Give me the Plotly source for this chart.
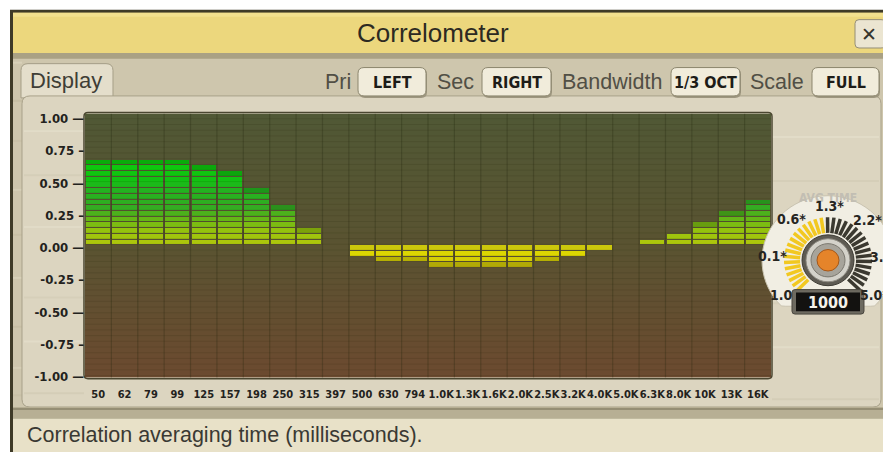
import math
import plotly.graph_objects as go

W, H = 883, 459

# ---------------- data ----------------
freqs = ["50", "62", "79", "99", "125", "157", "198", "250", "315", "397", "500", "630", "794",
         "1.0K", "1.3K", "1.6K", "2.0K", "2.5K", "3.2K", "4.0K", "5.0K", "6.3K", "8.0K", "10K", "13K", "16K"]
corr = [0.69, 0.69, 0.69, 0.69, 0.65, 0.61, 0.47, 0.33, 0.16, 0.0, -0.06, -0.11, -0.11,
        -0.15, -0.15, -0.15, -0.15, -0.11, -0.06, -0.02, 0.0, 0.07, 0.11, 0.20, 0.29, 0.38]
y_ticks = [1.0, 0.75, 0.5, 0.25, 0.0, -0.25, -0.5, -0.75, -1.0]
y_tick_text = ["1.00 —", "0.75 –", "0.50 —", "0.25 –", "0.00 —", "-0.25 –", "-0.50 —", "-0.75 –", "-1.00 —"]
knob_labels = ["1.0", "0.1*", "0.6*", "1.3*", "2.2*", "3.5", "5.0*"]
knob_value = "1000"
controls = [("Pri", "LEFT"), ("Sec", "RIGHT"), ("Bandwidth", "1/3 OCT"), ("Scale", "FULL")]

NARROW = "DejaVu Sans Condensed, Liberation Sans Narrow, Roboto, sans-serif"
SANS = "Liberation Sans, Arial, Helvetica, sans-serif"

SEG = 0.0442   # height of one meter segment
GAP = 0.007    # dark gap between segments
Z0 = 0.025     # meter quantisation origin


def X(p):
    return p / W


def Y(p):
    return 1 - p / H


def rect(x0, y0, x1, y1, fill, line=None, lw=0, layer="below"):
    return dict(type="rect", xref="paper", yref="paper", x0=X(x0), x1=X(x1), y0=Y(y1), y1=Y(y0),
                fillcolor=fill, line=dict(color=line or fill, width=lw), layer=layer)


def rrect(x0, y0, x1, y1, r, fill, line=None, lw=0, layer="below", top_only=False):
    def P(x, y):
        return f"{X(x):.5f},{Y(y):.5f}"
    if top_only:
        d = (f"M{P(x0, y1)} L{P(x0, y0 + r)} Q{P(x0, y0)} {P(x0 + r, y0)} L{P(x1 - r, y0)} "
             f"Q{P(x1, y0)} {P(x1, y0 + r)} L{P(x1, y1)} Z")
    else:
        d = (f"M{P(x0 + r, y0)} L{P(x1 - r, y0)} Q{P(x1, y0)} {P(x1, y0 + r)} L{P(x1, y1 - r)} "
             f"Q{P(x1, y1)} {P(x1 - r, y1)} L{P(x0 + r, y1)} Q{P(x0, y1)} {P(x0, y1 - r)} "
             f"L{P(x0, y0 + r)} Q{P(x0, y0)} {P(x0 + r, y0)} Z")
    return dict(type="path", xref="paper", yref="paper", path=d, fillcolor=fill,
                line=dict(color=line or fill, width=lw), layer=layer)


def circ(cx, cy, r, fill, line=None, lw=0, layer="above"):
    return dict(type="circle", xref="paper", yref="paper", x0=X(cx - r), x1=X(cx + r),
                y0=Y(cy + r), y1=Y(cy - r), fillcolor=fill, line=dict(color=line or fill, width=lw), layer=layer)


def lerp(c1, c2, t):
    return tuple(c1[i] + (c2[i] - c1[i]) * t for i in range(3))


def ramp(stops, k, dim=1.0):
    c = stops[-1][1]
    for (k0, c0), (k1, c1) in zip(stops, stops[1:]):
        if k <= k1:
            c = lerp(c0, c1, (k - k0) / (k1 - k0))
            break
    return "rgb(%d,%d,%d)" % tuple(v * dim for v in c)


POS_STOPS = [(0, (172, 198, 12)), (2, (148, 194, 14)), (4, (100, 182, 22)), (6, (52, 172, 34)),
             (9, (36, 178, 32)), (11, (18, 194, 18)), (14, (12, 204, 12))]
NEG_STOPS = [(0, (204, 200, 12)), (1, (220, 214, 2)), (3, (206, 198, 8))]

fig = go.Figure()

n = len(freqs)
x_lo, x_hi = -0.5, n - 0.5
y_lo, y_hi = -1.008, 1.038

# plot background gradient (heatmap layer sits below bars)
fig.add_trace(go.Heatmap(
    x=[x_lo, x_hi], y=[y_lo, 0, y_hi], z=[[0, 0], [0.5, 0.5], [1, 1]], zsmooth="best",
    colorscale=[[0, "rgb(108,74,48)"], [0.5, "rgb(90,83,49)"], [1, "rgb(80,88,53)"]],
    showscale=False, hoverinfo="skip"))

# segmented bars
bx, bb, bh, bc = [], [], [], []
for i, v in enumerate(corr):
    if v > 0:
        cnt = int(round((v - Z0) / SEG))
    else:
        cnt = int(round((Z0 - v) / SEG)) if v < 0 else 0
    for kk in range(cnt):
        top = kk == cnt - 1 and cnt > 2
        bx.append(i)
        bh.append(SEG - GAP)
        if v > 0:
            bb.append(Z0 + kk * SEG + GAP / 2)
            bc.append(ramp(POS_STOPS, kk, 0.84 if top else 1.0))
        else:
            bb.append(Z0 - (kk + 1) * SEG + GAP / 2)
            bc.append(ramp(NEG_STOPS, kk, 0.86 if top else 1.0))
fig.add_trace(go.Bar(x=bx, y=bh, base=bb, width=0.92, marker=dict(color=bc, line=dict(width=0)),
                     hoverinfo="skip", showlegend=False))

# faint segment grid
gx, gy = [], []
for i in range(n - 1):
    gx += [i + 0.5, i + 0.5, None]
    gy += [y_lo, y_hi, None]
fig.add_trace(go.Scatter(x=gx, y=gy, mode="lines", line=dict(color="rgba(30,34,12,0.26)", width=1.2),
                         hoverinfo="skip", showlegend=False))
hx, hy = [], []
k = -int(1.05 / SEG)
while Z0 + k * SEG < y_hi:
    hx += [x_lo, x_hi, None]
    hy += [Z0 + k * SEG, Z0 + k * SEG, None]
    k += 1
fig.add_trace(go.Scatter(x=hx, y=hy, mode="lines", line=dict(color="rgba(30,30,10,0.12)", width=1),
                         hoverinfo="skip", showlegend=False))

# ---------------- chrome shapes ----------------
shapes = []
shapes.append(rect(0, 0, W, H, "#ffffff"))
shapes.append(rect(10, 7, W, H, "#3e3a27"))
shapes.append(rect(13, 10, W, 51, "#ecd77d"))
shapes.append(rect(13, 10, W, 14, "#f2e08e"))
shapes.append(rect(13, 51, W, 425, "#cec6ad"))
shapes.append(rect(13, 51, W, 57, "#a9a184"))
for yy, col in [(60, "#d8d1b9"), (99, "#c6bea4"), (140, "#c9c1a8"), (190, "#d6cfb7"), (236, "#c8c0a6"),
                (280, "#d7d0b8"), (330, "#c7bfa5"), (372, "#d5ceb6"), (400, "#c9c1a7")]:
    shapes.append(rect(13, yy, 22, yy + 2, col))
shapes.append(rrect(21, 62, 113, 97, 7, "#e4decb", "#a59e87", 1, top_only=True))
shapes.append(rrect(22, 95, 881, 413, 8, "#dcd5c0", "#a8a189", 1))
for yy, col in [(130, "#e2dcc8"), (175, "#d5ceb8"), (228, "#e1dbc7"), (300, "#d6cfb9"), (345, "#e2dcc8"),
                (398, "#d4cdb7")]:
    shapes.append(rect(24, yy, 84, yy + 2, col))
    shapes.append(rect(772, yy + 6, 879, yy + 8, col))
shapes.append(rect(13, 413, W, 425, "#b7af94"))
shapes.append(rect(13, 414, W, 416, "#958e74"))
shapes.append(rect(13, 425, W, H, "#e8e1c8"))
shapes.append(rrect(84, 112, 772, 384, 4, "rgba(0,0,0,0)", "#4a4630", 1.5))
shapes.append(rrect(855, 17, 885, 46, 4, "#ebe5d1", "#958e77", 1))
btn_x = [(358, 426), (482, 551), (671, 740), (812, 879)]
for (bx0, bx1) in btn_x:
    shapes.append(rrect(bx0 + 1, 67, bx1 + 1, 97, 6, "#9d967f"))
    shapes.append(rrect(bx0, 66, bx1, 95, 6, "#f1ecdb", "#8c866e", 1))

# knob
KX, KY = 828, 263
pts = []
for a in range(0, 361, 5):
    t = math.radians(a)
    px = KX + 66 * math.cos(t)
    py = min(KY - 66 * math.sin(t), 310)
    pts.append(f"{X(px):.5f},{Y(py):.5f}")
shapes.append(dict(type="path", xref="paper", yref="paper", path="M" + " L".join(pts) + " Z",
                   fillcolor="#f1eee3", line=dict(color="#c9c3b0", width=1), layer="above"))
ang = 225.0
while ang >= -45.0:
    t = math.radians(ang)
    r1, r2 = 28, 44
    col = "#f2c820" if ang > 97 else "#3b3930"
    shapes.append(dict(type="line", xref="paper", yref="paper",
                       x0=X(KX + r1 * math.cos(t)), y0=Y(KY - r1 * math.sin(t)),
                       x1=X(KX + r2 * math.cos(t)), y1=Y(KY - r2 * math.sin(t)),
                       line=dict(color=col, width=3.5), layer="above"))
    ang -= 8.4
shapes.append(circ(KX, KY, 26, "#5e5b53", "#3e3c35", 1))
shapes.append(circ(KX, KY, 22, "#d4d2ca", "#8e8b82", 1))
shapes.append(circ(KX, KY, 17, "#a7a49b", "#7b786f", 1))
shapes.append(circ(KX, KY, 11, "#e5842a", "#a4571a", 1))
shapes.append(rrect(792, 293, 864, 318, 3, "#6d6a60", "#4a473f", 1, layer="above"))
shapes.append(rect(796, 296, 860, 315, "#131210", layer="above"))

# ---------------- annotations ----------------
ann = []


def text(x, y, s, size, color, family=SANS, anchor="center", weight="normal"):
    ann.append(dict(x=X(x), y=Y(y), xref="paper", yref="paper", text=s, showarrow=False,
                    font=dict(family=family, size=size, color=color, weight=weight),
                    xanchor=anchor, yanchor="middle"))


text(433, 31, "Correlometer", 26, "#2c2a22")
text(869, 32, "✕", 19, "#35342c", family="DejaVu Sans", weight="bold")
text(66, 79, "Display", 22, "#3f3e36")
label_cx = [338, 455, 612, 777]
for (lab, btn), lx, (bx0, bx1) in zip(controls, label_cx, btn_x):
    text(lx, 81, lab, 21.5, "#514f45")
    text((bx0 + bx1) / 2, 81, btn, 16, "#1d1c18", family=NARROW, weight="bold")
text(25, 442, "Correlation averaging time (milliseconds).", 21.5, "#3a3933", anchor="left")

text(KX, 199, "AVG TIME", 12, "#c2beb3", family=NARROW, weight="bold")
knob_pos = [(781, 299), (772, 259), (791, 221), (829, 208), (867, 222), (881, 260), (874, 299)]
for lab, (lx, ly) in zip(knob_labels, knob_pos):
    text(lx, ly, lab, 14, "#26251f", family=NARROW, weight="bold")
text((796 + 860) / 2, 306, knob_value, 16, "#f4f2ea", family=NARROW, weight="bold")

fig.update_layout(
    width=W, height=H, margin=dict(l=0, r=0, t=0, b=0),
    paper_bgcolor="#ffffff", plot_bgcolor="rgba(0,0,0,0)",
    barmode="overlay", bargap=0, showlegend=False,
    shapes=shapes, annotations=ann,
    xaxis=dict(domain=[85 / W, 771 / W], range=[x_lo, x_hi], tickvals=list(range(n)), ticktext=freqs,
               tickfont=dict(family=NARROW, size=11, color="#23221d", weight="bold"), ticks="",
               ticklabelstandoff=8, showgrid=False, zeroline=False, showline=False, fixedrange=True, tickangle=0),
    yaxis=dict(domain=[1 - 383 / H, 1 - 113 / H], range=[y_lo, y_hi], tickvals=y_ticks, ticktext=y_tick_text,
               tickfont=dict(family=NARROW, size=13, color="#23221d", weight="bold"), ticks="", showgrid=False,
               zeroline=False, showline=False, fixedrange=True),
)

fig.write_html("out.html", config={"displayModeBar": False},
               post_script="document.body.style.margin='0';document.body.style.overflow='hidden';")
